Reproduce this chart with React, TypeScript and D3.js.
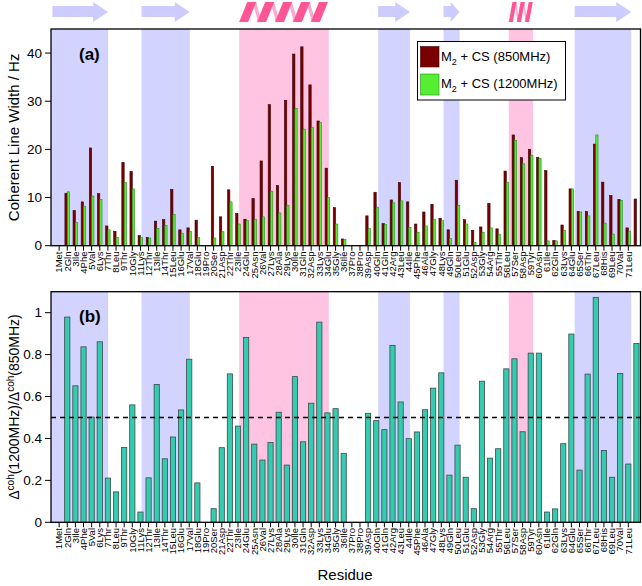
import React from "react";
import * as d3 from "d3";

const residues = ["1Met","2Gln","3Ile","4Phe","5Val","6Lys","7Thr","8Leu","9Thr","10Gly","11Lys","12Thr","13Ile","14Thr","15Leu","16Glu","17Val","18Glu","19Pro","20Ser","21Asp","22Thr","23Ile","24Glu","25Asn","26Val","27Lys","28Ala","29Lys","30Ile","31Gln","32Asp","33Lys","34Glu","35Gly","36Ile","37Pro","38Pro","39Asp","40Gln","41Gln","42Arg","43Leu","44Ile","45Phe","46Ala","47Gly","48Lys","49Gln","50Leu","51Glu","52Asp","53Gly","54Arg","55Thr","56Leu","57Ser","58Asp","59Tyr","60Asn","61Ile","62Gln","63Lys","64Glu","65Ser","66Thr","67Leu","68His","69Leu","70Val","71Leu"];

// residue 1..72
const width850: (number | null)[] = [null,10.9,7.3,9.1,20.3,10.8,4.1,3.0,17.3,15.4,2.1,1.7,5.1,5.4,11.7,3.3,3.7,5.3,null,16.5,6.0,11.6,6.7,5.5,9.8,17.6,29.3,12.5,30.2,39.8,41.3,33.4,25.9,16.1,7.9,1.4,null,null,6.2,11.1,4.6,9.5,13.1,9.1,4.5,7.0,8.6,5.7,3.3,13.6,5.4,3.2,3.9,8.8,3.5,15.5,23.0,18.3,20.0,18.3,15.6,1.1,4.3,11.8,7.1,7.1,21.1,13.2,10.4,9.6,3.7,9.7];
const width1200: (number | null)[] = [null,11.2,4.8,8.1,10.3,9.6,3.3,1.7,13.1,11.8,1.7,1.6,3.6,4.2,6.5,2.6,3.0,1.7,null,1.6,2.9,9.1,4.5,5.2,5.5,6.0,11.3,6.8,8.4,28.5,24.2,24.6,25.6,10.0,4.5,1.3,null,null,3.6,8.0,4.4,8.9,9.3,3.8,2.8,4.1,5.5,5.2,1.5,8.4,4.5,0.7,2.8,3.7,2.4,13.2,21.9,17.0,18.8,18.1,1.0,1.0,3.2,11.8,7.0,6.2,23.0,4.7,2.4,9.4,3.0,null];
const ratio: (number | null)[] = [null,0.979,0.651,0.837,0.502,0.861,0.211,0.145,0.357,0.560,0.049,0.212,0.657,0.303,0.407,0.536,0.778,0.188,null,0.065,0.356,0.708,0.459,0.882,0.373,0.297,0.381,0.525,0.273,0.695,0.384,0.568,0.955,0.522,0.542,0.329,null,null,0.520,0.485,0.442,0.844,0.574,0.399,0.431,0.537,0.640,0.713,0.225,0.368,0.215,0.065,0.673,0.306,0.351,0.732,0.780,0.432,0.807,0.807,0.049,0.064,0.375,0.898,0.249,0.707,1.073,0.343,0.215,0.710,0.278,0.853];

const strandStart = [0, 11.13, 40.24, 48.28, 64.4];
const strandEnd = [7.03, 17.07, 44.17, 50.25, 71.36];
const helixStart = [23.14, 56.3];
const helixEnd = [34.17, 59.3];
const helixTurns = [5, 3];

const ticksA = [0, 10, 20, 30, 40];
const ticksB = [0, 0.2, 0.4, 0.6, 0.8, 1];
const threshold = 0.5;

const FONT = "'Liberation Sans', Arial, Helvetica, sans-serif";
const BLUE = "#d3d3ff";
const PINK = "#ffc4e2";

export default function App() {
  const W = 642, H = 586;
  const x = d3.scaleLinear().domain([0, 72.5]).range([51, 640.5]);
  const yA = d3.scaleLinear().domain([0, 45]).range([245.7, 29]);
  const yB = d3.scaleLinear().domain([0, 1.1]).range([522.3, 291.7]);
  const xl = x(0), xr = x(72.5);
  const idx = d3.range(1, 73);

  const bands = (y0: number, y1: number) => (
    <g>
      {strandStart.map((s, i) => (
        <rect key={"s" + i} x={x(s)} y={y1} width={x(strandEnd[i]) - x(s)} height={y0 - y1} fill={BLUE} />
      ))}
      {helixStart.map((s, i) => (
        <rect key={"h" + i} x={x(s)} y={y1} width={x(helixEnd[i]) - x(s)} height={y0 - y1} fill={PINK} />
      ))}
    </g>
  );

  const xTicks = (y0: number, labelY: number) => (
    <g>
      {residues.map((r, i) => (
        <g key={r}>
          <line x1={x(i + 1)} x2={x(i + 1)} y1={y0} y2={y0 + 5} stroke="#000" strokeWidth={1} />
          <text transform={`translate(${x(i + 1) + 3.3},${labelY}) rotate(-90)`} textAnchor="end" fontSize={9.5} fontFamily={FONT} fill="#000">{r}</text>
        </g>
      ))}
    </g>
  );

  // top secondary structure glyphs
  const arrowTop = 2, arrowBot = 22, shaftTop = 6, shaftBot = 17, head = 15;
  const arrows = strandStart.map((s, i) => {
    const x0 = Math.max(x(s), 52.4);
    const x1 = x(strandEnd[i]);
    const hx = Math.max(x0 + (x1 - x0) * 0.45, x1 - head);
    const p = `M${x0},${shaftTop}L${hx},${shaftTop}L${hx},${arrowTop}L${x1},${(arrowTop + arrowBot) / 2}L${hx},${arrowBot}L${hx},${shaftBot}L${x0},${shaftBot}Z`;
    return <path key={"a" + i} d={p} fill="#ccccff" />;
  });
  const helices = helixStart.map((s, i) => {
    const x0 = x(s), x1 = x(helixEnd[i]);
    const n = helixTurns[i];
    const period = (x1 - x0) / n;
    const w = period * 0.5;
    const slant = period * 0.45;
    const parts: React.ReactNode[] = [];
    for (let k = 0; k < n - 1; k++) {
      const bx = x0 + k * period;
      const tx = bx + slant + w;
      const nb = x0 + (k + 1) * period;
      parts.push(<path key={"b" + k} d={`M${tx - w * 0.4},${arrowTop}L${tx},${arrowTop}L${nb + w * 0.5},${arrowBot}L${nb + w * 0.1},${arrowBot}Z`} fill="#ffaad0" />);
    }
    for (let k = 0; k < n; k++) {
      const bx = x0 + k * period;
      parts.push(<path key={"f" + k} d={`M${bx},${arrowBot}L${bx + slant},${arrowTop}L${bx + slant + w},${arrowTop}L${bx + w},${arrowBot}Z`} fill="#ff5595" />);
    }
    return <g key={"h" + i}>{parts}</g>;
  });

  const bw = 0.29;

  return (
    <svg width={W} height={H} style={{ display: "block", position: "absolute", left: 0, top: 0 }} fontFamily={FONT}>
      <defs>
        <clipPath id="clipA"><rect x={xl} y={yA(45)} width={xr - xl} height={yA(0) - yA(45)} /></clipPath>
        <clipPath id="clipB"><rect x={xl} y={yB(1.1)} width={xr - xl} height={yB(0) - yB(1.1)} /></clipPath>
      </defs>
      <rect x={0} y={0} width={W} height={H} fill="#fff" />
      {arrows}
      {helices}

      {/* Panel (a) */}
      {bands(yA(0), yA(45))}
      <g clipPath="url(#clipA)">
        {idx.map((n, i) => {
          const a = width850[i], b = width1200[i];
          return (
            <g key={n}>
              {a != null && <rect x={x(n - bw)} y={yA(a)} width={x(n) - x(n - bw)} height={yA(0) - yA(a)} fill="#7a0000" stroke="#3a0000" strokeWidth={0.6} />}
              {b != null && <rect x={x(n)} y={yA(b)} width={x(n + bw * 0.95) - x(n)} height={yA(0) - yA(b)} fill="#55ee33" stroke="#2a8a1a" strokeWidth={0.6} />}
            </g>
          );
        })}
      </g>
      <rect x={xl} y={yA(45)} width={xr - xl} height={yA(0) - yA(45)} fill="none" stroke="#000" strokeWidth={1.3} />
      {ticksA.map(t => (
        <g key={t}>
          <line x1={xl - 6} x2={xl} y1={yA(t)} y2={yA(t)} stroke="#000" />
          <text x={xl - 9} y={yA(t)} dy="0.35em" textAnchor="end" fontSize={13.5}>{t}</text>
        </g>
      ))}
      {xTicks(yA(0), 251.5)}
      <text transform={`translate(19,${(yA(0) + yA(45)) / 2}) rotate(-90)`} textAnchor="middle" fontSize={15}>Coherent Line Width / Hz</text>
      <text x={79} y={60} fontSize={17} fontWeight="bold">(a)</text>

      {/* Legend */}
      <g>
        <rect x={417.5} y={41.5} width={148} height={58.5} fill="#fff" stroke="#000" strokeWidth={1} />
        <rect x={420.5} y={46.5} width={18.5} height={20.5} fill="#7a0000" stroke="#3a0000" strokeWidth={0.6} />
        <rect x={420.5} y={74} width={18.5} height={21} fill="#55ee33" stroke="#2a8a1a" strokeWidth={0.6} />
        <text x={441} y={61} fontSize={13}>M<tspan fontSize={9} dy={4}>2</tspan><tspan dy={-4}> + CS (850MHz)</tspan></text>
        <text x={441} y={88} fontSize={13}>M<tspan fontSize={9} dy={4}>2</tspan><tspan dy={-4}> + CS (1200MHz)</tspan></text>
      </g>

      {/* Panel (b) */}
      {bands(yB(0), yB(1.1))}
      <g clipPath="url(#clipB)">
        {idx.map((n, i) => {
          const v = ratio[i];
          if (v == null) return null;
          return <rect key={n} x={x(n - 0.32)} y={yB(v)} width={x(n + 0.32) - x(n - 0.32)} height={yB(0) - yB(v)} fill="#33ccb0" stroke="#3c4a48" strokeWidth={0.8} />;
        })}
      </g>
      <line x1={xl} x2={xr} y1={yB(threshold)} y2={yB(threshold)} stroke="#000" strokeWidth={1.3} strokeDasharray="5,4" />
      <rect x={xl} y={yB(1.1)} width={xr - xl} height={yB(0) - yB(1.1)} fill="none" stroke="#000" strokeWidth={1.3} />
      {ticksB.map(t => (
        <g key={t}>
          <line x1={xl - 6} x2={xl} y1={yB(t)} y2={yB(t)} stroke="#000" />
          <text x={xl - 9} y={yB(t)} dy="0.35em" textAnchor="end" fontSize={13.5}>{t}</text>
        </g>
      ))}
      {xTicks(yB(0), 528)}
      <text transform={`translate(19,${(yB(0) + yB(1.1)) / 2}) rotate(-90)`} textAnchor="middle" fontSize={14}>
        Δ<tspan fontSize={10} dy={-5}>coh</tspan><tspan dy={5}>(1200MHz)/Δ</tspan><tspan fontSize={10} dy={-5}>coh</tspan><tspan dy={5}>(850MHz)</tspan>
      </text>
      <text x={79} y={322} fontSize={17} fontWeight="bold">(b)</text>

      <text x={345} y={580} textAnchor="middle" fontSize={15}>Residue</text>
    </svg>
  );
}
